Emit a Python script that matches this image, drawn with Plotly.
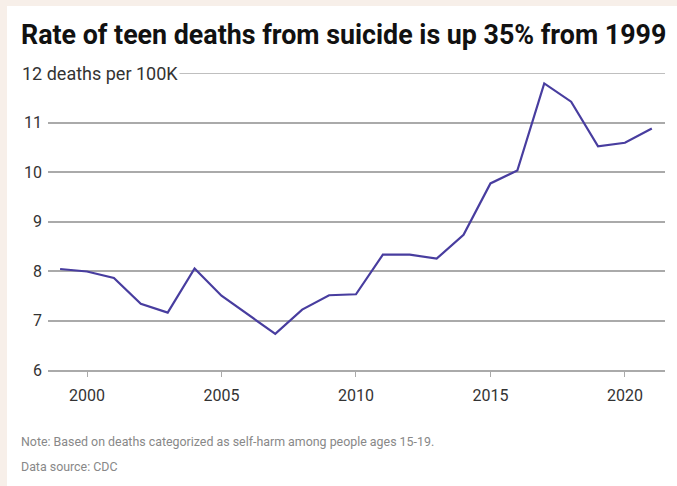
import plotly.graph_objects as go

years = list(range(1999, 2022))
rates = [8.04, 7.99, 7.86, 7.34, 7.16, 8.05, 7.50, 7.12, 6.73, 7.22, 7.51, 7.53,
         8.33, 8.33, 8.25, 8.73, 9.77, 10.03, 11.79, 11.42, 10.52, 10.59, 10.88]

y_ticks = [6, 7, 8, 9, 10, 11, 12]
y_text = ["6", "7", "8", "9", "10", "11", ""]
x_ticks = [2000, 2005, 2010, 2015, 2020]

title = "Rate of teen deaths from suicide is up 35% from 1999"
unit_label = "12 deaths per 100K"
note = "Note: Based on deaths categorized as self-harm among people ages 15-19."
source = "Data source: CDC"

W, H = 677, 486
ML, MR, MT, MB = 48, 12, 73, 116
PW, PH = W - ML - MR, H - MT - MB

def px_x(p):
    return (p - ML) / PW

def px_y(p):
    return (H - MB - p) / PH

GRID = "#aaaaaa"

fig = go.Figure()
fig.add_trace(go.Scatter(x=years, y=rates, mode="lines",
                         line=dict(color="#483d9f", width=2.2),
                         hoverinfo="skip", showlegend=False))

font_main = "Roboto, Arial, sans-serif"

fig.update_layout(
    width=W, height=H,
    margin=dict(l=ML, r=MR, t=MT, b=MB, pad=0),
    paper_bgcolor="#f7efe9",
    plot_bgcolor="white",
    font=dict(family=font_main, color="#333333", size=16),
    xaxis=dict(range=[1998.55, 2021.49], tickvals=x_ticks, showgrid=False,
               zeroline=False, showline=True, linecolor=GRID, linewidth=1.5,
               ticks="outside", ticklen=5, tickwidth=1.2, tickcolor=GRID,
               ticklabelstandoff=5,
               tickfont=dict(size=16, color="#333333")),
    yaxis=dict(range=[6, 12], tickvals=y_ticks, ticktext=y_text,
               showgrid=True, gridcolor=GRID, gridwidth=1.5,
               zeroline=False, showline=False, ticks="",
               ticklabelstandoff=5,
               tickfont=dict(size=16, color="#333333")),
    shapes=[
        dict(type="rect", xref="paper", yref="paper", layer="below",
             x0=px_x(7), x1=px_x(W + 5), y0=px_y(H + 5), y1=px_y(6),
             fillcolor="white", line=dict(width=0)),
        dict(type="line", xref="paper", yref="y", layer="below",
             x0=0, x1=1, y0=12, y1=12, line=dict(color=GRID, width=1.5)),
    ],
    annotations=[
        dict(text="<b>" + title + "</b>", xref="paper", yref="paper",
             x=px_x(19), y=px_y(35), xanchor="left", yanchor="middle",
             showarrow=False, font=dict(size=26.8, color="#111111", family=font_main)),
        dict(text=unit_label, xref="paper", yref="y",
             x=px_x(20), y=12, xanchor="left", yanchor="middle",
             showarrow=False, bgcolor="white", borderpad=1,
             font=dict(size=18, color="#333333", family=font_main)),
        dict(text=note, xref="paper", yref="paper",
             x=px_x(19), y=px_y(441), xanchor="left", yanchor="middle",
             showarrow=False, font=dict(size=12.4, color="#888888", family=font_main)),
        dict(text=source, xref="paper", yref="paper",
             x=px_x(19), y=px_y(466), xanchor="left", yanchor="middle",
             showarrow=False, font=dict(size=12.4, color="#888888", family=font_main)),
    ],
)

fig.write_html("out.html")
